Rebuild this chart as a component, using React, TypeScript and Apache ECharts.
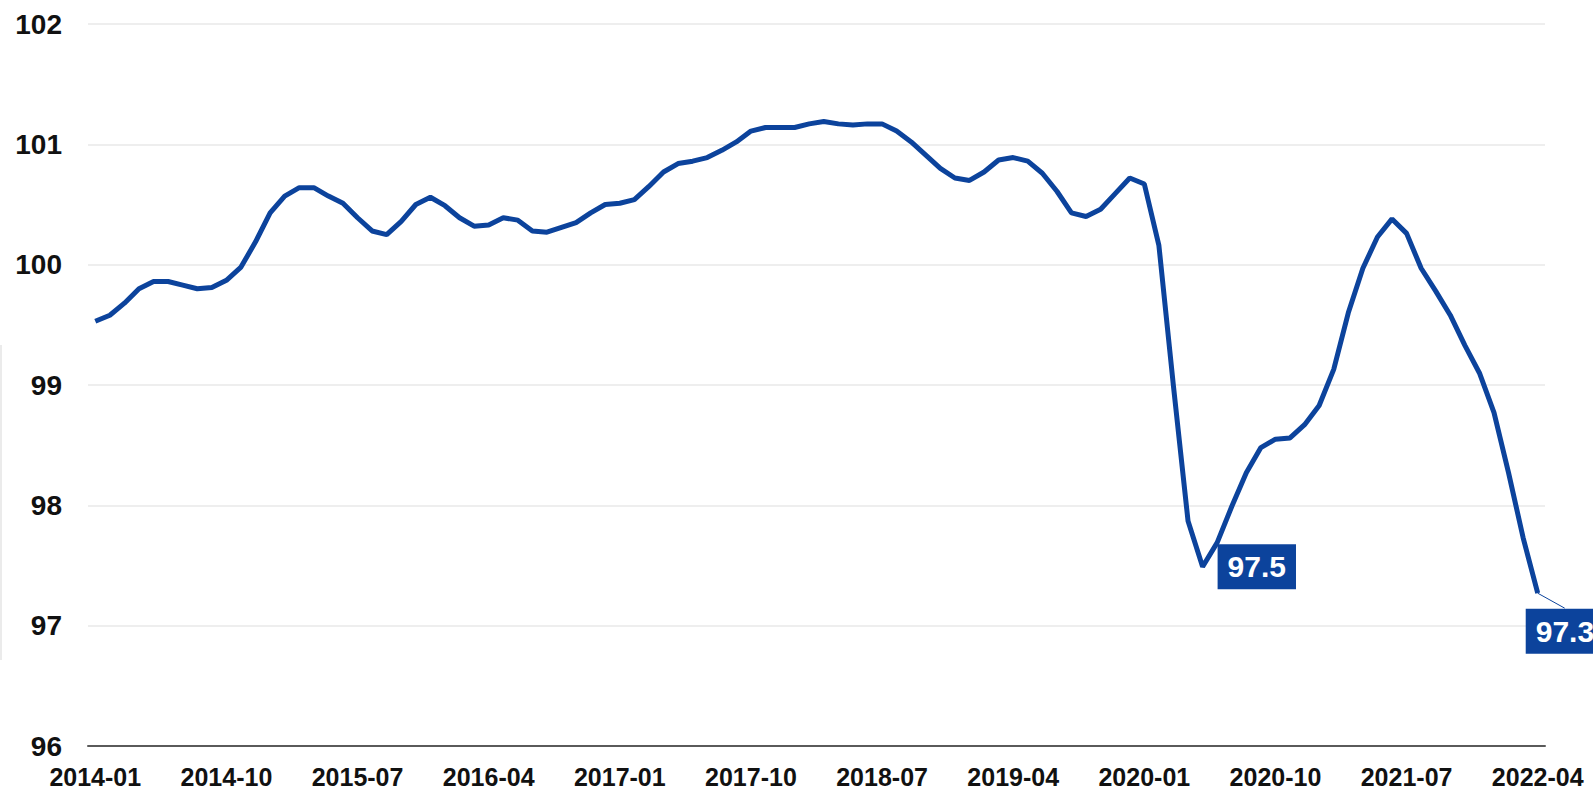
import React, { useEffect, useRef } from "react";
import * as echarts from "echarts";

// Monthly categories 2014-01 .. 2022-04
const startYear = 2014;
const monthCount = 100;
const categories: string[] = [];
for (let i = 0; i < monthCount; i++) {
  const y = startYear + Math.floor(i / 12);
  const m = (i % 12) + 1;
  categories.push(`${y}-${m < 10 ? "0" + m : m}`);
}

const values = [
  99.53, 99.58, 99.68, 99.8, 99.86, 99.86, 99.83, 99.8, 99.81, 99.87,
  99.98, 100.19, 100.43, 100.57, 100.64, 100.64, 100.57, 100.51, 100.39, 100.28,
  100.25, 100.36, 100.5, 100.56, 100.49, 100.39, 100.32, 100.33, 100.39, 100.37,
  100.28, 100.27, 100.31, 100.35, 100.43, 100.5, 100.51, 100.54, 100.65, 100.77,
  100.84, 100.86, 100.89, 100.95, 101.02, 101.11, 101.14, 101.14, 101.14, 101.17,
  101.19, 101.17, 101.16, 101.17, 101.17, 101.11, 101.02, 100.91, 100.8, 100.72,
  100.7, 100.77, 100.87, 100.89, 100.86, 100.76, 100.61, 100.43, 100.4, 100.46,
  100.59, 100.72, 100.67, 100.16, 98.99, 97.87, 97.49, 97.69, 97.99, 98.27,
  98.48, 98.55, 98.56, 98.67, 98.83, 99.13, 99.6, 99.97, 100.23, 100.38,
  100.26, 99.97, 99.78, 99.58, 99.33, 99.1, 98.77, 98.27, 97.73, 97.27,
];

const labeledIndices = [76, 99];
const yMin = 96;
const yMax = 102;
const yStep = 1;

const BLUE = "#0c439c";
const FONT = "'Liberation Sans', Arial, sans-serif";

export default function App() {
  const ref = useRef<HTMLDivElement>(null);

  useEffect(() => {
    if (!ref.current) return;
    const chart = echarts.init(ref.current, undefined, { renderer: "svg" });
    const lastIdx = labeledIndices[labeledIndices.length - 1];
    const labelData = labeledIndices.map((i) => {
      const item: any = { value: [i, values[i]] };
      if (i === lastIdx) {
        item.label = { offset: [-27, 38] };
      }
      return item;
    });
    chart.setOption({
      animation: false,
      backgroundColor: "#ffffff",
      grid: { left: 88, right: 48, top: 24, bottom: 48, containLabel: false },
      xAxis: {
        type: "category",
        data: categories,
        boundaryGap: true,
        axisLine: { show: true, lineStyle: { color: "#5a5a5a", width: 2 } },
        axisTick: { show: false },
        axisLabel: {
          interval: 8,
          margin: 18,
          fontSize: 25,
          lineHeight: 25,
          fontWeight: "bold",
          color: "#111111",
          fontFamily: FONT,
        },
        splitLine: { show: false },
      },
      yAxis: {
        type: "value",
        min: yMin,
        max: yMax,
        interval: yStep,
        axisLine: { show: false },
        axisTick: { show: false },
        axisLabel: {
          margin: 26,
          fontSize: 28,
          fontWeight: "bold",
          color: "#111111",
          fontFamily: FONT,
        },
        splitLine: { show: true, lineStyle: { color: "#eeeeee", width: 2 } },
      },
      series: [
        {
          type: "line",
          data: values,
          showSymbol: false,
          symbol: "none",
          lineStyle: { color: BLUE, width: 5 },
          z: 2,
        },
        {
          type: "scatter",
          data: labelData,
          symbolSize: 0,
          itemStyle: { color: BLUE, opacity: 1 },
          z: 5,
          label: {
            show: true,
            position: "right",
            distance: 15,
            formatter: (p: any) => Number(p.value[1]).toFixed(1),
            backgroundColor: BLUE,
            color: "#ffffff",
            opacity: 1,
            fontSize: 30,
            fontWeight: "bold",
            fontFamily: FONT,
            padding: [8, 10, 7, 10],
            lineHeight: 30,
          },
          emphasis: { disabled: true },
        },
      ],
    });
    const p = chart.convertToPixel({ xAxisIndex: 0, yAxisIndex: 0 }, [lastIdx, values[lastIdx]]) as number[];
    chart.setOption({
      graphic: [
        {
          type: "line",
          shape: { x1: p[0], y1: p[1], x2: p[0] + 27, y2: p[1] + 15 },
          style: { stroke: BLUE, lineWidth: 1 },
          z: 4,
        },
        {
          type: "line",
          shape: { x1: 1, y1: 345, x2: 1, y2: 660 },
          style: { stroke: "#ebebeb", lineWidth: 2 },
        },
      ],
    });
    return () => chart.dispose();
  }, []);

  return (
    <div
      ref={ref}
      style={{ position: "fixed", left: 0, top: 0, width: 1593, height: 794, background: "#fff" }}
    />
  );
}
